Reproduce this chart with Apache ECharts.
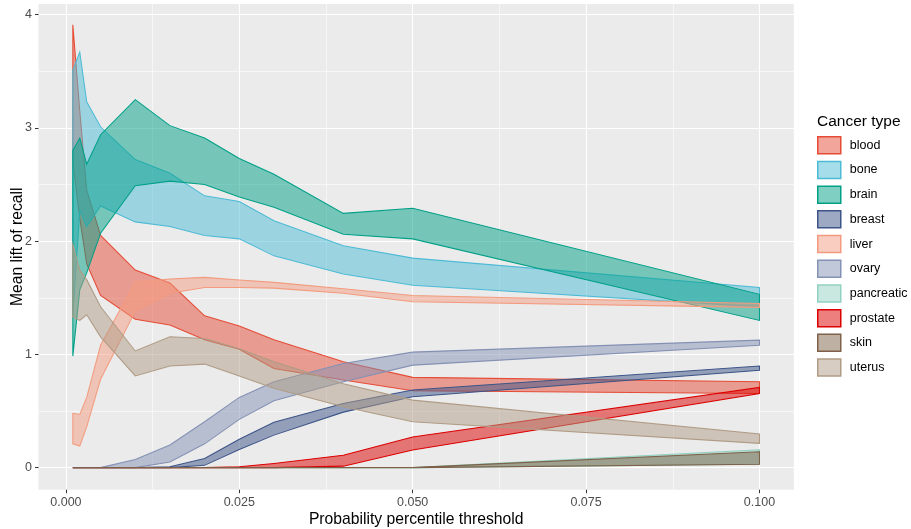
<!DOCTYPE html>
<html>
<head>
<meta charset="utf-8">
<script src="https://cdn.jsdelivr.net/npm/echarts@6/dist/echarts.min.js"></script>
<style>
  html, body { margin: 0; padding: 0; background: #ffffff; }
  #chart { width: 911px; height: 529px; }
</style>
</head>
<body>
<div id="chart"></div>
<script>
// Probability percentile thresholds (x positions of every ribbon vertex)
const thresholds = [0.001, 0.002, 0.003, 0.005, 0.01, 0.015, 0.02, 0.025, 0.03, 0.04, 0.05, 0.1];

// Cancer types, in legend / drawing order
const cancerTypes = ['blood', 'bone', 'brain', 'breast', 'liver', 'ovary', 'pancreatic', 'prostate', 'skin', 'uterus'];

// Lower and upper bounds of the mean lift of recall for each cancer type
const bloodLow   = [2.70, 2.20, 1.80, 1.52, 1.31, 1.26, 1.13, 1.045, 0.876, 0.773, 0.678, 0.655];
const bloodHigh  = [3.91, 3.15, 2.45, 2.05, 1.745, 1.63, 1.34, 1.25, 1.13, 0.935, 0.797, 0.758];
const boneLow    = [1.35, 2.27, 2.13, 2.31, 2.17, 2.13, 2.05, 2.02, 1.87, 1.71, 1.61, 1.42];
const boneHigh   = [3.51, 3.67, 3.23, 3.01, 2.72, 2.60, 2.40, 2.35, 2.18, 1.96, 1.85, 1.59];
const brainLow   = [0.985, 1.57, 1.72, 2.07, 2.49, 2.53, 2.50, 2.39, 2.30, 2.06, 2.02, 1.30];
const brainHigh  = [2.80, 2.91, 2.68, 2.94, 3.25, 3.02, 2.91, 2.73, 2.59, 2.245, 2.29, 1.53];
const breastLow  = [0, 0, 0, 0, 0, 0, 0.02, 0.16, 0.287, 0.49, 0.625, 0.86];
const breastHigh = [0, 0, 0, 0, 0, 0.007, 0.08, 0.25, 0.40, 0.567, 0.685, 0.897];
const liverLow   = [0.21, 0.19, 0.36, 0.78, 1.38, 1.54, 1.59, 1.59, 1.585, 1.54, 1.465, 1.415];
const liverHigh  = [0.48, 0.47, 0.62, 1.08, 1.64, 1.665, 1.68, 1.656, 1.636, 1.58, 1.52, 1.45];
const ovaryLow   = [0, 0, 0, 0, 0, 0.05, 0.21, 0.426, 0.59, 0.758, 0.905, 1.08];
const ovaryHigh  = [0, 0, 0, 0, 0.072, 0.2, 0.405, 0.62, 0.758, 0.92, 1.02, 1.126];
const pancreaticLow  = [0, 0, 0, 0, 0, 0, 0, 0, 0, 0, 0, 0.03];
const pancreaticHigh = [0, 0, 0, 0, 0, 0, 0, 0, 0, 0, 0, 0.158];
const prostateLow  = [0, 0, 0, 0, 0, 0, 0, 0, 0, 0.013, 0.155, 0.655];
const prostateHigh = [0, 0, 0, 0, 0, 0, 0, 0.007, 0.037, 0.11, 0.27, 0.708];
const skinLow    = [0, 0, 0, 0, 0, 0, 0, 0, 0, 0, 0, 0.03];
const skinHigh   = [0, 0, 0, 0, 0, 0, 0, 0, 0, 0, 0, 0.14];
const uterusLow  = [1.33, 1.30, 1.35, 1.155, 0.81, 0.897, 0.914, 0.81, 0.70, 0.537, 0.405, 0.214];
const uterusHigh = [1.97, 1.745, 1.66, 1.42, 1.03, 1.155, 1.14, 1.05, 0.935, 0.74, 0.596, 0.296];

// Axis ticks and their labels
const xTicks = [0, 0.025, 0.05, 0.075, 0.1];
const xTickLabels = ['0.000', '0.025', '0.050', '0.075', '0.100'];
const yTicks = [0, 1, 2, 3, 4];
const yTickLabels = ['0', '1', '2', '3', '4'];

const bounds = {
  blood: [bloodLow, bloodHigh], bone: [boneLow, boneHigh], brain: [brainLow, brainHigh],
  breast: [breastLow, breastHigh], liver: [liverLow, liverHigh], ovary: [ovaryLow, ovaryHigh],
  pancreatic: [pancreaticLow, pancreaticHigh], prostate: [prostateLow, prostateHigh],
  skin: [skinLow, skinHigh], uterus: [uterusLow, uterusHigh]
};

// ggsci "npg" palette
const palette = {
  blood: '#E64B35', bone: '#4DBBD5', brain: '#00A087', breast: '#3C5488', liver: '#F39B7F',
  ovary: '#8491B4', pancreatic: '#91D1C2', prostate: '#DC0000', skin: '#7E6148', uterus: '#B09C85'
};

function withAlpha(hex, a) {
  const n = parseInt(hex.slice(1), 16);
  return 'rgba(' + ((n >> 16) & 255) + ',' + ((n >> 8) & 255) + ',' + (n & 255) + ',' + a + ')';
}

const FONT = '"Liberation Sans", Arial, sans-serif';

// Data ranges of the panel (ggplot-style 5% expansion around the data)
const xLo = thresholds[0], xHi = thresholds[thresholds.length - 1];
const xPad = (xHi - xLo) * 0.05;
const yMax = 3.9;
const yPad = yMax * 0.05;

// Panel geometry
const panel = { left: 38.5, right: 117.2, top: 3.9, bottom: 39.3 };
const pxPerX = (911 - panel.left - panel.right) / (xHi - xLo + 2 * xPad);
const pxPerY = (529 - panel.top - panel.bottom) / (yMax + 2 * yPad);

const ribbonSeries = cancerTypes.map(function (name) {
  const lo = bounds[name][0], hi = bounds[name][1];
  const col = palette[name];
  return {
    name: name,
    type: 'custom',
    xAxisIndex: 0,
    yAxisIndex: 0,
    itemStyle: { color: withAlpha(col, 0.5), borderColor: col, borderWidth: 1 },
    data: thresholds.map(function (x, i) { return [x, lo[i], hi[i]]; }),
    encode: { x: 0, y: [1, 2] },
    renderItem: function (params, api) {
      // the whole ribbon is drawn once, as a single closed polygon
      if (params.dataIndex !== 0) return { type: 'group', children: [] };
      const top = thresholds.map(function (x, i) { return api.coord([x, hi[i]]); });
      const bottom = thresholds.map(function (x, i) { return api.coord([x, lo[i]]); }).reverse();
      return {
        type: 'polygon',
        shape: { points: top.concat(bottom) },
        style: { fill: withAlpha(col, 0.5), stroke: col, lineWidth: 1.05, lineJoin: 'miter' }
      };
    }
  };
});

const hiddenAxis = {
  type: 'value', axisLine: { show: false }, axisTick: { show: false },
  axisLabel: { show: false }, splitLine: { show: false }
};

const chart = echarts.init(document.getElementById('chart'), null, { renderer: 'canvas' });

chart.setOption({
  animation: false,
  backgroundColor: '#ffffff',
  grid: [
    // data panel
    { left: panel.left, right: panel.right, top: panel.top, bottom: panel.bottom,
      show: true, backgroundColor: '#EBEBEB', borderWidth: 0,
      containLabel: false, outerBoundsMode: 'none' },
    // vertical grid lines + x tick labels (spans x = 0 .. 0.1)
    { left: panel.left + (0 - (xLo - xPad)) * pxPerX,
      right: panel.right + ((xHi + xPad) - 0.1) * pxPerX,
      top: panel.top, bottom: panel.bottom, containLabel: false, outerBoundsMode: 'none' },
    // horizontal grid lines + y tick labels (spans y = 0 .. 4)
    { left: panel.left, right: panel.right,
      top: panel.top + ((yMax + yPad) - 4) * pxPerY,
      bottom: panel.bottom + yPad * pxPerY, containLabel: false, outerBoundsMode: 'none' }
  ],
  xAxis: [
    { gridIndex: 0, type: 'value', min: xLo - xPad, max: xHi + xPad,
      axisLine: { show: false }, axisTick: { show: false }, axisLabel: { show: false },
      splitLine: { show: false },
      name: 'Probability percentile threshold', nameLocation: 'middle', nameGap: 22,
      nameTextStyle: { fontFamily: FONT, fontSize: 15.7, color: '#000000' } },
    { gridIndex: 1, type: 'value', min: xTicks[0], max: xTicks[xTicks.length - 1], interval: 0.025,
      axisLine: { show: false },
      axisTick: { show: true, length: 3.5, lineStyle: { color: '#333333', width: 1.05 } },
      axisLabel: { show: true, margin: 6, color: '#4D4D4D', fontFamily: FONT, fontSize: 12.5,
        formatter: function (v) { const k = xTicks.findIndex(function (t) { return Math.abs(t - v) < 1e-9; }); return k >= 0 ? xTickLabels[k] : ''; } },
      splitLine: { show: true, lineStyle: { color: '#FFFFFF', width: 1.1 } },
      minorTick: { show: false, splitNumber: 2 },
      minorSplitLine: { show: true, lineStyle: { color: '#FFFFFF', width: 0.55 } } },
    Object.assign({ gridIndex: 2, min: 0, max: 1 }, hiddenAxis)
  ],
  yAxis: [
    { gridIndex: 0, type: 'value', min: -yPad, max: yMax + yPad,
      axisLine: { show: false }, axisTick: { show: false }, axisLabel: { show: false },
      splitLine: { show: false },
      name: 'Mean lift of recall', nameLocation: 'middle', nameGap: 13,
      nameTextStyle: { fontFamily: FONT, fontSize: 15.7, color: '#000000' } },
    Object.assign({ gridIndex: 1, min: 0, max: 1 }, hiddenAxis),
    { gridIndex: 2, type: 'value', min: yTicks[0], max: yTicks[yTicks.length - 1], interval: 1,
      axisLine: { show: false },
      axisTick: { show: true, length: 3.5, lineStyle: { color: '#333333', width: 1.05 } },
      axisLabel: { show: true, margin: 6.5, color: '#4D4D4D', fontFamily: FONT, fontSize: 12.5,
        formatter: function (v) { const k = yTicks.indexOf(v); return k >= 0 ? yTickLabels[k] : ''; } },
      splitLine: { show: true, lineStyle: { color: '#FFFFFF', width: 1.1 } },
      minorTick: { show: false, splitNumber: 2 },
      minorSplitLine: { show: true, lineStyle: { color: '#FFFFFF', width: 0.55 } } }
  ],
  title: {
    text: 'Cancer type', left: 812, top: 109,
    textStyle: { fontFamily: FONT, fontSize: 15.5, fontWeight: 'normal', color: '#000000' }
  },
  legend: {
    orient: 'vertical', left: 812, top: 131,
    itemWidth: 23, itemHeight: 17, itemGap: 6.2, icon: 'rect',
    selectedMode: false,
    textStyle: { fontFamily: FONT, fontSize: 12.5, color: '#000000', padding: [0, 0, 0, 4] },
    data: cancerTypes.map(function (name) {
      return { name: name, icon: 'rect',
        itemStyle: { color: withAlpha(palette[name], 0.5), borderColor: palette[name], borderWidth: 1.5 } };
    })
  },
  series: ribbonSeries
});
</script>
</body>
</html>
